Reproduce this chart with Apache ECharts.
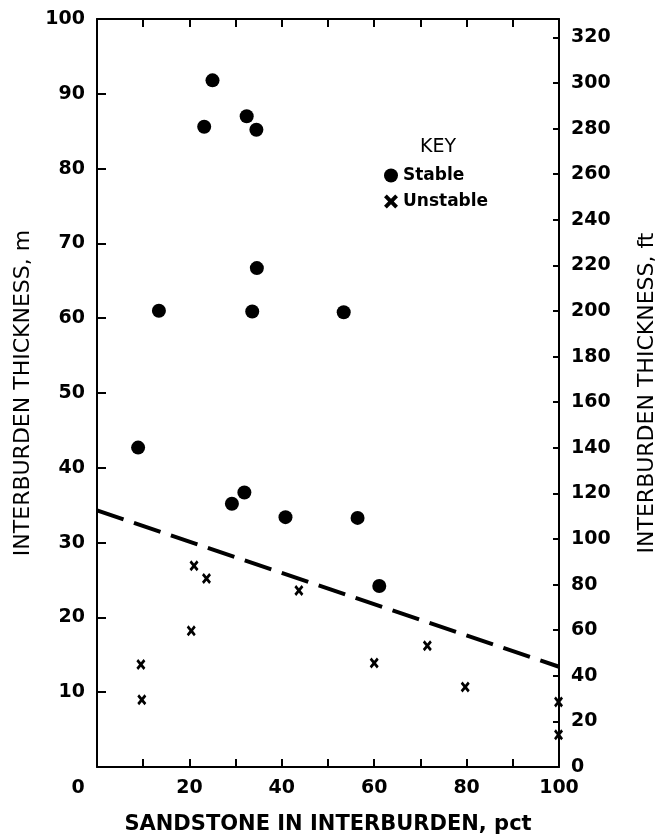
<!DOCTYPE html>
<html>
<head>
<meta charset="utf-8">
<script src="https://cdn.jsdelivr.net/npm/echarts@6/dist/echarts.min.js"></script>
<style>
  html, body { margin: 0; padding: 0; background: #fff; }
  #chart { width: 662px; height: 837px; }
</style>
</head>
<body>
<div id="chart"></div>
<script>
// sandstone in interburden (pct) vs interburden thickness (m)
const stableX = [25.0, 23.2, 32.4, 34.5, 34.6, 33.6, 13.4, 53.4, 8.9, 29.2, 31.9, 40.8, 56.4, 61.1];
const stableY = [91.8, 85.6, 87.0, 85.2, 66.7, 60.9, 61.0, 60.8, 42.7, 35.2, 36.7, 33.4, 33.3, 24.2];
const unstableX = [9.5, 9.7, 21.0, 23.7, 20.4, 43.7, 60.0, 71.5, 79.7, 99.9, 99.9];
const unstableY = [13.7, 9.0, 26.9, 25.2, 18.2, 23.6, 13.9, 16.2, 10.7, 8.7, 4.3];
// dashed boundary line
const trendX = [0, 100];
const trendY = [34.3, 13.4];

const M_TO_FT = 3.28084;
const FONT = 'DejaVu Sans';
const crossPath = 'path://M0,2L2,0L5,3L8,0L10,2L7,5L10,8L8,10L5,7L2,10L0,8L3,5Z';

const zip = (xs, ys) => xs.map((x, i) => [x, ys[i]]);

const chart = echarts.init(document.getElementById('chart'));

const labelStyle = { color: '#000', fontFamily: FONT, fontSize: 19, fontWeight: 'bold' };
const nameStyle = { color: '#000', fontFamily: FONT, fontSize: 22 };
const lineStyle = { color: '#000', width: 2 };

const option = {
    backgroundColor: '#fff',
    animation: false,
    title: {
        text: 'KEY',
        left: 415,
        top: 133,
        textStyle: { color: '#000', fontFamily: FONT, fontSize: 19, fontWeight: 'normal' }
    },
    legend: {
        orient: 'vertical',
        left: 379,
        top: 162,
        itemGap: 9,
        itemWidth: 14,
        itemHeight: 14,
        textStyle: { color: '#000', fontFamily: FONT, fontSize: 17, fontWeight: 'bold' },
        data: [
            { name: 'Stable', icon: 'circle' },
            { name: 'Unstable', icon: crossPath, itemStyle: { color: '#000' } }
        ]
    },
    grid: { left: 97, right: 103, top: 19, bottom: 70, outerBoundsMode: 'none' },
    xAxis: [
        {
            type: 'value',
            min: 0,
            max: 100,
            interval: 10,
            name: 'SANDSTONE IN INTERBURDEN, pct',
            nameLocation: 'middle',
            nameGap: 47,
            nameTextStyle: Object.assign({}, nameStyle, { fontSize: 21, fontWeight: 'bold' }),
            axisLine: { onZero: false, lineStyle: lineStyle },
            axisTick: { inside: true, length: 8, lineStyle: lineStyle },
            splitLine: { show: false },
            axisLabel: Object.assign({
                margin: 12,
                formatter: v => v === 0 ? '{z|0}' : (v % 20 === 0 ? String(v) : ''),
                rich: { z: { fontFamily: FONT, fontSize: 19, fontWeight: 'bold', color: '#000', padding: [0, 38, 0, 0] } }
            }, labelStyle)
        },
        {
            type: 'value',
            position: 'top',
            min: 0,
            max: 100,
            interval: 10,
            axisLine: { onZero: false, lineStyle: lineStyle },
            axisTick: { inside: true, length: 8, lineStyle: lineStyle },
            splitLine: { show: false },
            axisLabel: { show: false }
        }
    ],
    yAxis: [
        {
            type: 'value',
            min: 0,
            max: 100,
            interval: 10,
            name: 'INTERBURDEN THICKNESS, m',
            nameLocation: 'middle',
            nameRotate: 90,
            nameGap: 61,
            nameTextStyle: nameStyle,
            axisLine: { onZero: false, lineStyle: lineStyle },
            axisTick: { inside: true, length: 9, lineStyle: lineStyle },
            splitLine: { show: false },
            axisLabel: Object.assign({ margin: 12, showMinLabel: false }, labelStyle)
        },
        {
            type: 'value',
            position: 'right',
            min: 0,
            max: 100 * M_TO_FT,
            interval: 20,
            name: 'INTERBURDEN THICKNESS, ft',
            nameLocation: 'middle',
            nameRotate: 90,
            nameGap: 77,
            nameTextStyle: nameStyle,
            axisLine: { onZero: false, lineStyle: lineStyle },
            axisTick: { inside: true, length: 6, lineStyle: lineStyle },
            splitLine: { show: false },
            axisLabel: Object.assign({ margin: 12, showMaxLabel: false }, labelStyle)
        }
    ],
    series: [
        {
            name: 'Boundary',
            type: 'line',
            data: zip(trendX, trendY),
            symbol: 'none',
            silent: true,
            lineStyle: { color: '#000', width: 4, type: [28, 11] },
            z: 1
        },
        {
            name: 'Stable',
            type: 'scatter',
            data: zip(stableX, stableY),
            symbol: 'circle',
            symbolSize: 14,
            itemStyle: { color: '#000', opacity: 1 },
            z: 3
        },
        {
            name: 'Unstable',
            type: 'scatter',
            data: zip(unstableX, unstableY),
            symbol: crossPath,
            symbolSize: [9, 11],
            itemStyle: { color: '#000', opacity: 1 },
            z: 3
        }
    ]
};

chart.setOption(option);
</script>
</body>
</html>
